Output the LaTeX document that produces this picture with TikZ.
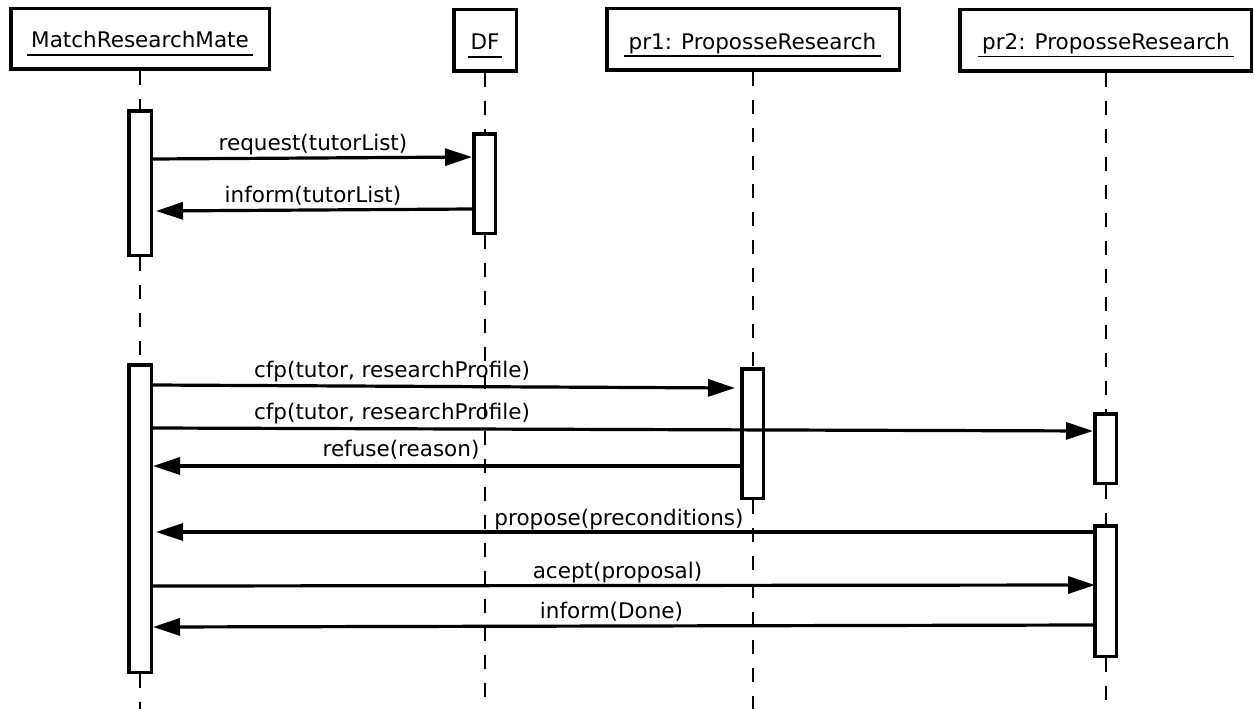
\documentclass[tikz,border=0pt]{standalone}
\usepackage{fontspec}
\setmainfont{DejaVu Sans}
\usetikzlibrary{arrows.meta}
\begin{document}
\begin{tikzpicture}[x=1pt,y=-1pt,
  every node/.style={font=\fontsize{21.5}{25}\selectfont},
  head/.style={draw, line width=3.5pt, fill=white, inner sep=0pt, minimum height=61.5pt},
  act/.style={draw, line width=3.5pt, fill=white, inner sep=0pt, minimum width=22.5pt},
  lifeline/.style={line width=2pt, dash pattern=on 14pt off 14pt},
  msg/.style={line width=3.2pt, -{Triangle[length=27pt,width=17pt]}},
  lbl/.style={anchor=base, inner sep=0pt},
  title/.style={anchor=base, inner xsep=4pt, inner ysep=0pt},
  uline/.style={line width=1.6pt},
]
\useasboundingbox (0,0) rectangle (1255,709);

% object heads
\node[head, minimum width=258.5pt, minimum height=60.5pt] (mrm) at (140,39) {};
\node[head, minimum width=62.5pt] (df) at (485,40.5) {};
\node[head, minimum width=292.5pt] (pr1) at (753,39.5) {};
\node[head, minimum width=291.5pt] (pr2) at (1105.5,40.5) {};

\node[title] (mrmT) at (140,48) {MatchResearchMate};
\node[title, inner xsep=2pt] (dfT) at (485,50) {DF};
\node[title] (pr1T) at (752.5,49) {pr1: ProposseResearch};
\node[title] (pr2T) at (1106,49.5) {pr2: ProposseResearch};
\foreach \t in {mrmT,dfT,pr1T,pr2T}
  \draw[uline] ([yshift=-7pt]\t.base west) -- ([yshift=-7pt]\t.base east);

% activation bars
\node[act, minimum height=144.5pt] (a1) at (140,183) {};
\node[act, minimum width=21.5pt, minimum height=99.5pt] (d1) at (484.5,183.5) {};
\node[act, minimum height=307.5pt] (a2) at (140,518.5) {};
\node[act, minimum width=21.5pt, minimum height=129.5pt] (p1) at (752.5,433.5) {};
\node[act, minimum width=21.5pt, minimum height=69.5pt] (q1) at (1105.5,448.5) {};
\node[act, minimum width=21.5pt, minimum height=130.5pt] (q2) at (1105.5,591) {};

% message labels
\node[lbl] (l1) at (313,150) {request(tutorList)};
\node[lbl] (l2) at (313,202) {inform(tutorList)};
\node[lbl] (l3) at (392,377) {cfp(tutor, researchProfile)};
\node[lbl] (l4) at (392,419) {cfp(tutor, researchProfile)};
\node[lbl] (l5) at (401,456) {refuse(reason)};
\node[lbl] (l6) at (619,525) {propose(preconditions)};
\node[lbl] (l7) at (617.5,578) {acept(proposal)};
\node[lbl] (l8) at (611.5,618) {inform(Done)};

% lifeline ends
\coordinate (mrmEnd) at (140,709);
\coordinate (dfEnd) at (484.5,709);
\coordinate (pr1End) at (752.5,709);
\coordinate (pr2End) at (1105.5,709);

% lifelines
\draw[lifeline] (mrm.south) -- (a1.north);
\draw[lifeline] (a1.south) -- (a2.north);
\draw[lifeline] (a2.south) -- (mrmEnd);
\draw[lifeline] (df.south -| d1.north) -- (d1.north);
\draw[lifeline] (d1.south) -- (dfEnd);
\draw[lifeline] (pr1.south -| p1.north) -- (p1.north);
\draw[lifeline] (p1.south) -- (pr1End);
\draw[lifeline] (pr2.south) -- (q1.north);
\draw[lifeline] (q1.south) -- (q2.north);
\draw[lifeline] (q2.south) -- (pr2End);

% messages
\draw[msg] (a1.east |- 0,159) -- (d1.west |- 0,157);
\draw[msg] (d1.west |- 0,209) -- ([xshift=3pt]a1.east |- 0,211);
\draw[msg] (a2.east |- 0,385) -- ([xshift=-5pt]p1.west |- 0,388);
\draw[msg] (a2.east |- 0,428) -- (q1.west |- 0,431);
\draw[msg] (p1.west |- 0,466) -- (a2.east |- 0,466);
\draw[msg] (q2.west |- 0,532) -- ([xshift=3pt]a2.east |- 0,532);
\draw[msg] (a2.east |- 0,586) -- ([xshift=2pt]q2.west |- 0,585);
\draw[msg] (q2.west |- 0,625) -- (a2.east |- 0,627);
\end{tikzpicture}
\end{document}
